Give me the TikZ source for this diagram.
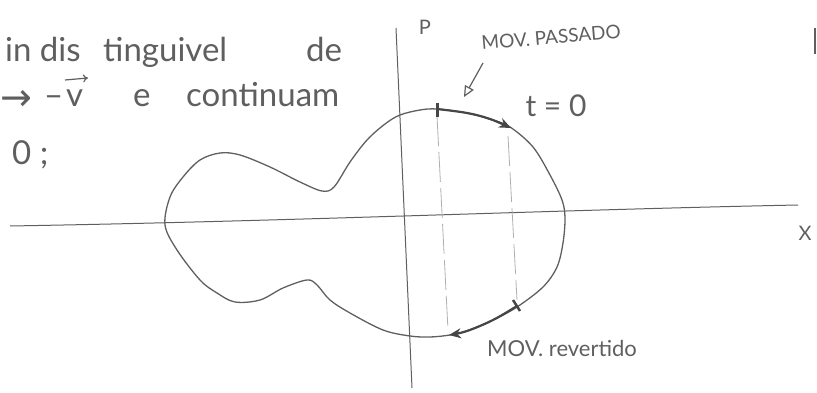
\documentclass[tikz,border=0pt]{standalone}
\usepackage{fontspec}
\setmainfont{Lato}
\newfontfamily\dejavu{DejaVu Sans}
\usetikzlibrary{arrows.meta}
\definecolor{pencil}{RGB}{95,95,95}
\definecolor{pencildark}{RGB}{70,70,70}
\definecolor{pencillight}{RGB}{175,175,175}
\begin{document}
\begin{tikzpicture}[x=1pt,y=-1pt,
  hand/.style={text=pencil,inner sep=0pt,font=\fontsize{33}{33}\selectfont},
  lbl/.style={text=pencil,inner sep=0pt},
  axis/.style={draw=pencil,line width=1pt},
  curve/.style={draw=pencil,line width=1.3pt},
  motion/.style={draw=pencildark,line width=2.2pt},
  guide/.style={draw=pencillight,line width=0.8pt,dash pattern=on 30pt off 6pt}]
\useasboundingbox (0,0) rectangle (817,393);
% left text
\node[hand,anchor=base west] (w1) at (5,62) {in dis};
\node[hand,anchor=base west] (w2) at (103,62) {tinguivel};
\node[hand,anchor=base west] (w3) at (306,62) {de};
\node[hand,anchor=base west,font=\dejavu\fontsize{38}{38}\selectfont] (w4) at (0,111) {→};
\node[hand,anchor=base west] (w5a) at (44,107) {–};
\node[hand,anchor=base west] (w5) at (66,107) {v};
\draw[draw=pencil,line width=1.2pt,-{To[length=5pt,width=8pt]}] (65,80) -- (88,78);
\node[hand,anchor=base west] (w6) at (133,107) {e};
\node[hand,anchor=base west] (w7) at (186,107) {continuam};
\node[hand,anchor=base west] (w8) at (12,165) {0 ;};
% axes
\coordinate (xl) at (10,226);
\coordinate (xr) at (798,205);
\coordinate (pt) at (396,28);
\coordinate (pb) at (412,388);
\draw[axis] (xl) .. controls (300,221) and (550,210) .. (xr);
\draw[axis] (pt) -- (pb);
\node[lbl,font=\fontsize{20}{20}\selectfont] (P) at (425,27) {P};
\node[lbl,font=\fontsize{20}{20}\selectfont] (X) at (805,233) {X};
\draw[draw=pencil,line width=1.5pt] (815,28) -- (815,54);
% guide lines
\draw[guide] (437,116) -- (448,330);
\draw[guide] (508,136) -- (517,300);
% closed phase-space curve
\draw[curve] plot[smooth cycle,tension=0.55] coordinates {
 (165,225) (170,197) (183,177) (200,160) (220,153) (240,155) (270,167)
 (300,182) (322,191) (334,187) (350,162) (367,140) (385,124) (400,115)
 (420,110) (437,109) (467,113) (490,119) (510,127) (533,147) (550,175)
 (562,200) (565,218) (563,243) (557,267) (543,287) (517,307) (493,320)
 (467,331) (450,335) (430,337) (410,336) (383,330) (350,313) (330,300)
 (317,285) (307,280) (283,288) (260,300) (235,302) (217,293) (200,280)
 (177,250)};
% past motion
\coordinate (a0) at (437,109);
\coordinate (a1) at (511,128);
\draw[motion,-{Stealth[length=12pt,width=10pt]}] plot[smooth,tension=0.6] coordinates {(a0) (467,113) (490,119) (a1)};
\draw[draw=pencildark,line width=3pt] (437,103) -- (437,117);
% reversed motion
\coordinate (b0) at (517,306);
\coordinate (b1) at (449,335);
\draw[motion,-{Stealth[length=12pt,width=10pt]}] plot[smooth,tension=0.6] coordinates {(b0) (493,320) (467,331) (b1)};
\draw[draw=pencildark,line width=2.5pt] (513,300) -- (520,311);
% labels
\node[lbl,font=\fontsize{19}{19}\selectfont,rotate=5,anchor=base west] (mp) at (482,50) {MOV. PASSADO};
\coordinate (ps) at (483,63);
\coordinate (pe) at (464,97);
\draw[draw=pencil,line width=1.2pt,-{Triangle[open,length=11pt,width=10pt]}] (ps) -- (pe);
\node[lbl,font=\fontsize{30}{30}\selectfont] (t0) at (556,106) {t = 0};
\node[lbl,font=\fontsize{22}{22}\selectfont,anchor=base west] (mr) at (487,356) {MOV. revertido};
\end{tikzpicture}
\end{document}
